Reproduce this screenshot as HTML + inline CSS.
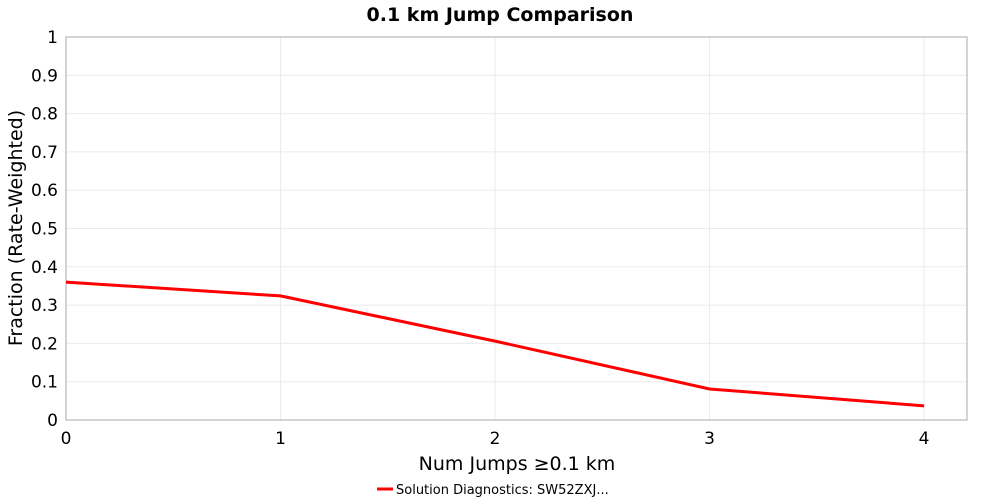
<!DOCTYPE html>
<html><head><meta charset="utf-8"><style>
body{margin:0;background:#fff;width:1000px;height:500px;overflow:hidden;font-family:"DejaVu Sans","Liberation Sans",sans-serif}
</style></head><body>
<svg width="1000" height="500">
<text x="500" y="21" text-anchor="middle" font-size="19" font-weight="bold">0.1 km Jump Comparison</text>
<g id="grid"></g>
<rect x="66" y="37" width="901" height="383" fill="none" stroke="#aaa"/>
<g id="axes"></g>
<path id="line" fill="none" stroke="#ff0000" stroke-width="3"/>
<text x="517" y="470" text-anchor="middle" font-size="19">Num Jumps ≥0.1 km</text>
<text transform="translate(22,228) rotate(-90)" text-anchor="middle" font-size="19">Fraction (Rate-Weighted)</text>
<g>
<line x1="377" y1="489" x2="393" y2="489" stroke="#ff0000" stroke-width="3"/>
<text x="396" y="494" font-size="13">Solution Diagnostics: SW52ZXJ...</text>
</g>
</svg>
<script>
const categories=[0,1,2,3,4];
const values=[0.36,0.324,0.206,0.081,0.037];
const yTicks=[0,0.1,0.2,0.3,0.4,0.5,0.6,0.7,0.8,0.9,1];
const L=66,R=967,T=37,B=420,XMAX=4.2;
const xs=v=>L+v/XMAX*(R-L), ys=v=>B-v*(B-T);
const ns="http://www.w3.org/2000/svg";
const g=document.getElementById('grid'),a=document.getElementById('axes');
function mk(tag,at,p){const e=document.createElementNS(ns,tag);for(const k in at)e.setAttribute(k,at[k]);p.appendChild(e);return e;}
yTicks.forEach(t=>{
 const l=mk('line',{x1:L,x2:R,y1:ys(t),y2:ys(t),stroke:'#ebebeb'},g);
 
 
 const tx=mk('text',{x:58,y:ys(t)+6,'text-anchor':'end','font-size':17},a);
 tx.textContent=String(t);
 
 
});
categories.forEach(c=>{
 const l=mk('line',{x1:xs(c),x2:xs(c),y1:T,y2:B,stroke:'#ebebeb'},g);
 
 
 const tx=mk('text',{x:xs(c),y:444,'text-anchor':'middle','font-size':17},a);
 tx.textContent=String(c);
 
 
});
document.getElementById('line').setAttribute('d',categories.map((c,i)=>(i?'L':'M')+xs(c)+','+ys(values[i])).join(''));
</script>
</body></html>
